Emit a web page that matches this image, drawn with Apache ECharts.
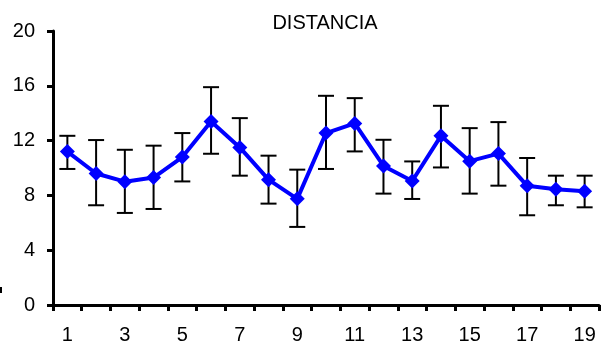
<!DOCTYPE html>
<html>
<head>
<meta charset="utf-8">
<script src="https://cdn.jsdelivr.net/npm/echarts@6/dist/echarts.min.js"></script>
<style>
html,body{margin:0;padding:0;background:#fff;}
#chart{width:613px;height:347px;}
</style>
</head>
<body>
<div id="chart"></div>
<script>
var categories = ['1','2','3','4','5','6','7','8','9','10','11','12','13','14','15','16','17','18','19'];
var means = [11.2, 9.6, 9.0, 9.3, 10.8, 13.4, 11.5, 9.15, 7.75, 12.55, 13.25, 10.15, 9.05, 12.35, 10.5, 11.05, 8.7, 8.45, 8.3];
var highs = [12.35, 12.04, 11.33, 11.63, 12.55, 15.9, 13.64, 10.9, 9.88, 15.27, 15.1, 12.06, 10.48, 14.54, 12.91, 13.35, 10.73, 9.44, 9.44];
var lows  = [9.93, 7.28, 6.72, 7.01, 9.02, 11.04, 9.44, 7.4, 5.7, 9.93, 11.21, 8.13, 7.74, 10.04, 8.13, 8.71, 6.55, 7.28, 7.13];
var yTicks = [0, 4, 8, 12, 16, 20];
var titleText = 'DISTANCIA';

var errData = categories.map(function (c, i) { return [i, lows[i], highs[i]]; });

var chart = echarts.init(document.getElementById('chart'), null, {renderer: 'canvas'});
chart.setOption({
  animation: false,
  backgroundColor: '#ffffff',
  title: {
    text: titleText,
    left: 320,
    textAlign: 'center',
    top: 8,
    textStyle: {fontFamily: 'Liberation Sans, Arial, sans-serif', fontWeight: 'normal', fontSize: 20, color: '#000'}
  },
  grid: {left: 53, right: 14, top: 31, bottom: 42, containLabel: false},
  xAxis: {
    type: 'category',
    data: categories,
    boundaryGap: true,
    axisLine: {show: true, lineStyle: {color: '#000', width: 3}},
    axisTick: {show: true, interval: 0, length: 6, lineStyle: {color: '#000', width: 3}},
    axisLabel: {interval: 1, margin: 20, color: '#000', fontSize: 20, fontFamily: 'Liberation Sans, Arial, sans-serif'},
    splitLine: {show: false}
  },
  yAxis: {
    type: 'value',
    min: yTicks[0],
    max: yTicks[yTicks.length - 1],
    interval: 4,
    axisLine: {show: true, lineStyle: {color: '#000', width: 3}},
    axisTick: {show: true, length: 6, lineStyle: {color: '#000', width: 3}},
    axisLabel: {margin: 18, color: '#000', fontSize: 20, fontFamily: 'Liberation Sans, Arial, sans-serif'},
    splitLine: {show: false}
  },
  graphic: [{
    type: 'rect', left: 0, top: 287, shape: {width: 2, height: 6}, style: {fill: '#000'}
  }],
  series: [
    {
      type: 'custom',
      z: 1,
      data: errData,
      renderItem: function (params, api) {
        var x = api.value(0);
        var lo = api.coord([x, api.value(1)]);
        var hi = api.coord([x, api.value(2)]);
        var hw = 8;
        var style = {stroke: '#000', lineWidth: 2};
        return {
          type: 'group',
          children: [
            {type: 'line', shape: {x1: hi[0], y1: hi[1], x2: lo[0], y2: lo[1]}, style: style},
            {type: 'line', shape: {x1: hi[0] - hw, y1: hi[1], x2: hi[0] + hw, y2: hi[1]}, style: style},
            {type: 'line', shape: {x1: lo[0] - hw, y1: lo[1], x2: lo[0] + hw, y2: lo[1]}, style: style}
          ]
        };
      }
    },
    {
      type: 'line',
      z: 5,
      data: means,
      symbol: 'diamond',
      symbolSize: 15,
      lineStyle: {color: '#0000ff', width: 4},
      itemStyle: {color: '#0000ff'}
    }
  ]
});
</script>
</body>
</html>
